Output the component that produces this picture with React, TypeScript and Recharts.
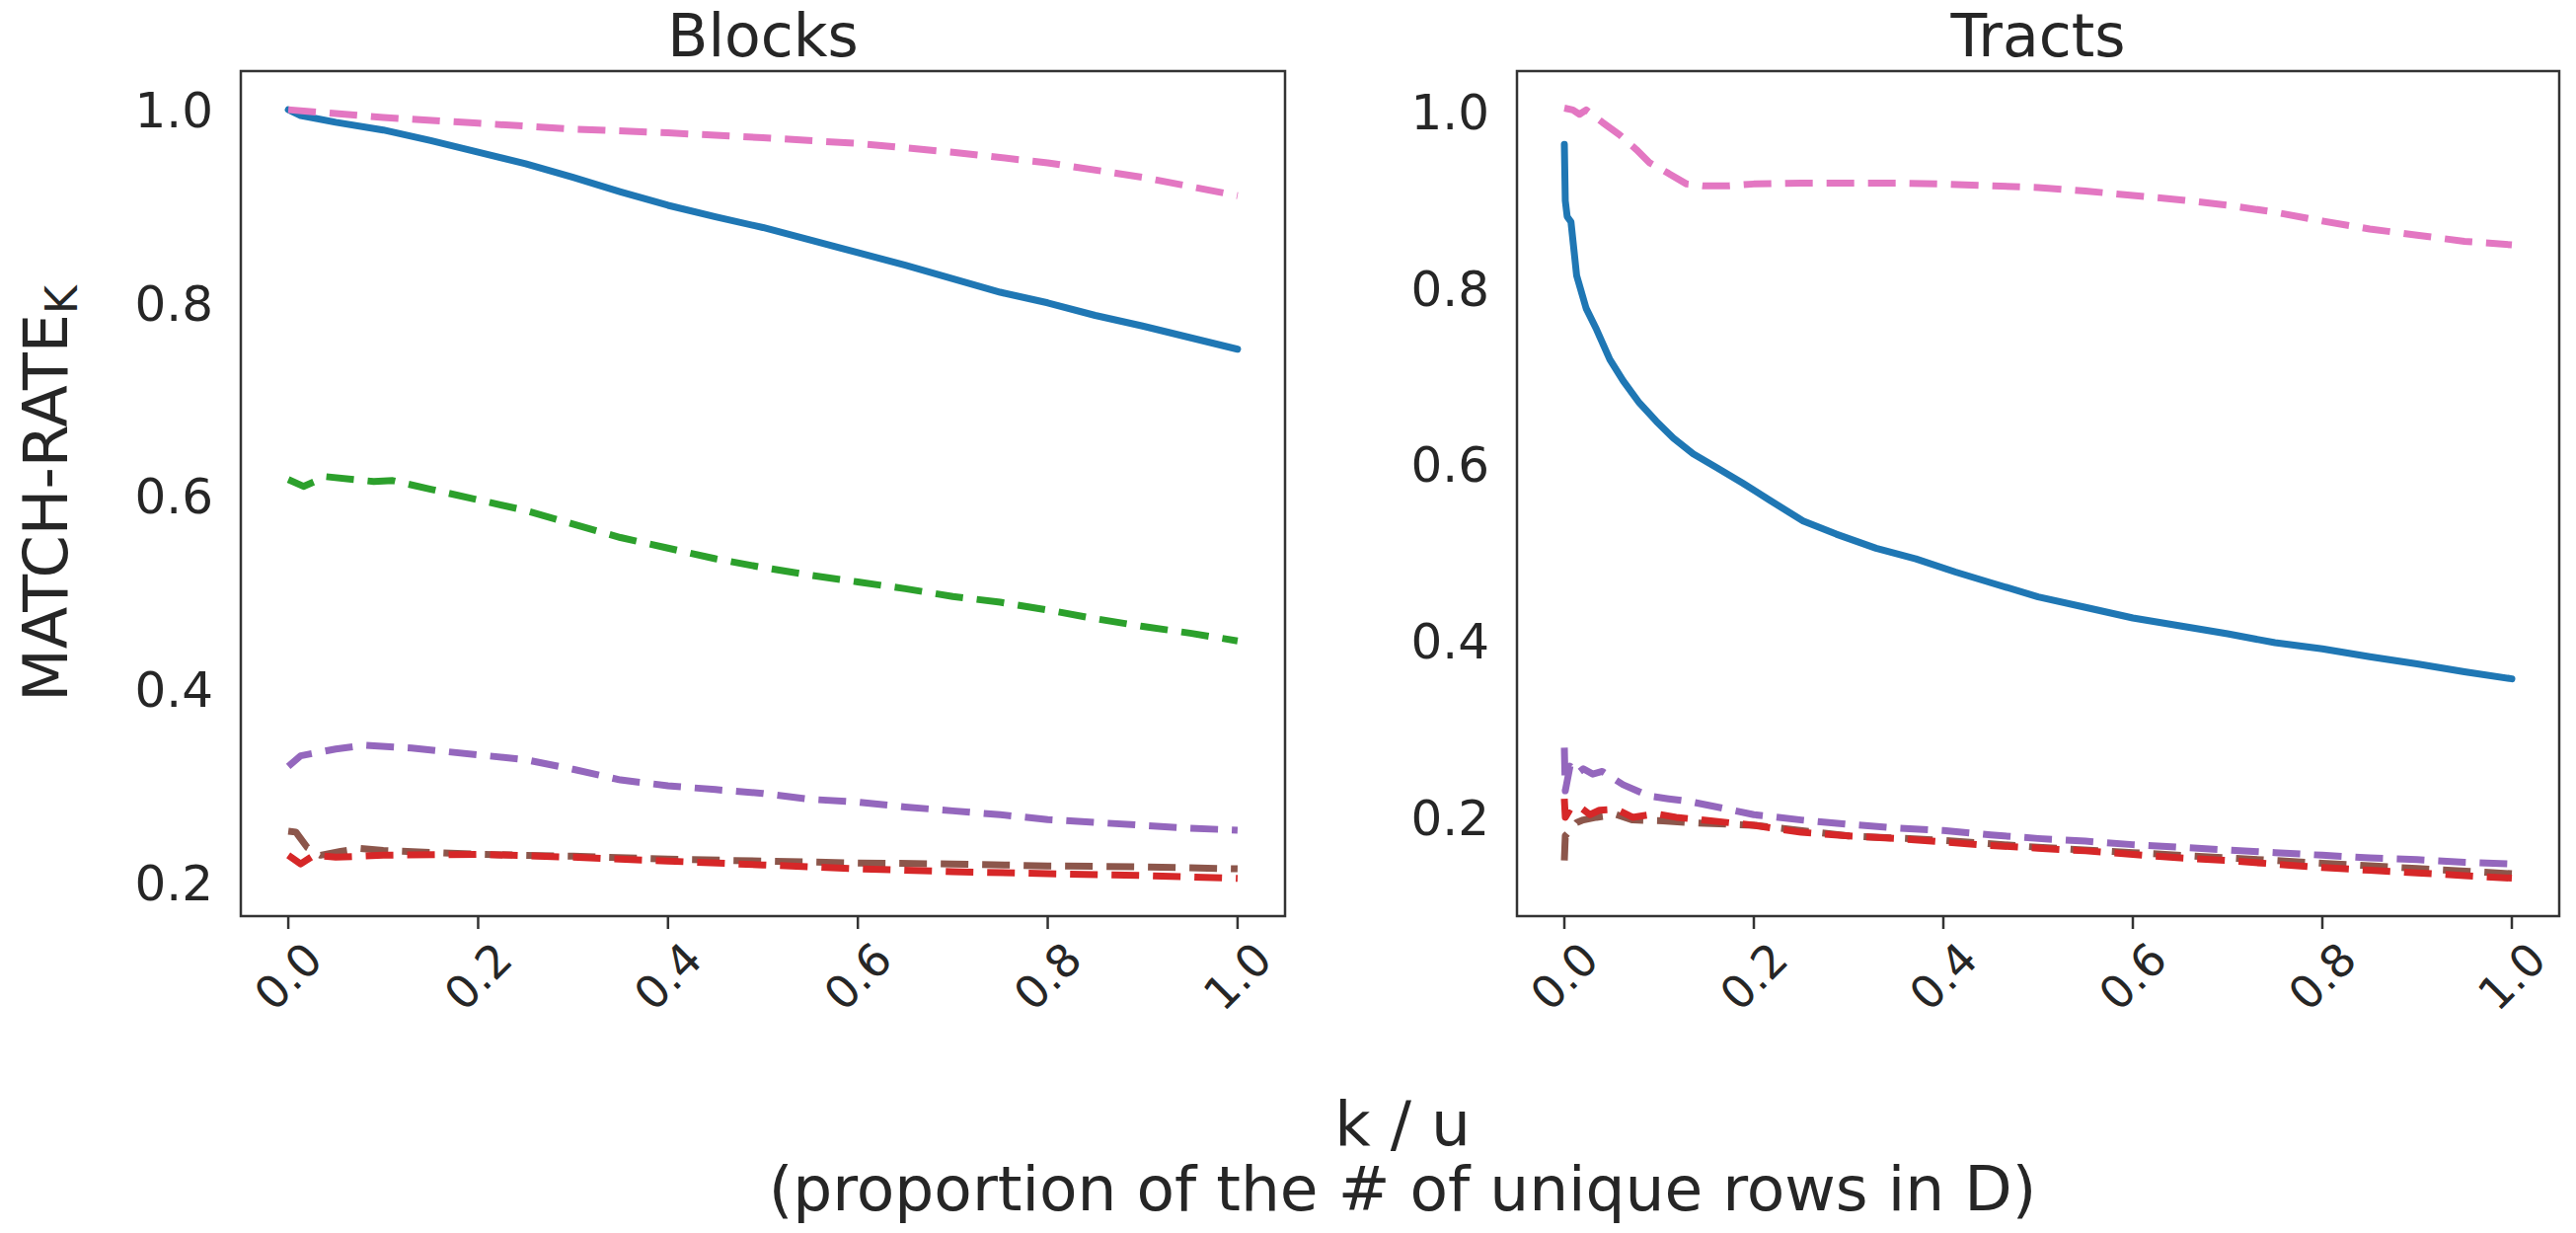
import React from "react";
import { LineChart, Line, XAxis, YAxis, ReferenceArea } from "recharts";

type Pt = [number, number];

// ---- shared axis values ----
const X_TICKS = [0, 0.2, 0.4, 0.6, 0.8, 1.0];
const Y_TICKS = [0.2, 0.4, 0.6, 0.8, 1.0];
const X_DOMAIN: [number, number] = [-0.05, 1.05];
const BLOCKS_Y_DOMAIN: [number, number] = [0.165, 1.04];
const TRACTS_Y_DOMAIN: [number, number] = [0.088, 1.046];

// ---- Blocks ----
const BLOCKS_BLUE: Pt[] = [
  [0, 1.0], [0.013, 0.994], [0.05, 0.987], [0.1, 0.979], [0.15, 0.968], [0.2, 0.956],
  [0.25, 0.944], [0.3, 0.93], [0.35, 0.915], [0.4, 0.901], [0.45, 0.889], [0.5, 0.878],
  [0.55, 0.865], [0.6, 0.852], [0.65, 0.839], [0.7, 0.825], [0.75, 0.811], [0.8, 0.8],
  [0.85, 0.787], [0.9, 0.776], [0.95, 0.764], [1.0, 0.752],
];
const BLOCKS_PINK: Pt[] = [
  [0, 1.0], [0.1, 0.992], [0.2, 0.986], [0.3, 0.98], [0.4, 0.976], [0.5, 0.971],
  [0.6, 0.965], [0.7, 0.956], [0.8, 0.945], [0.9, 0.93], [1.0, 0.911],
];
const BLOCKS_GREEN: Pt[] = [
  [0, 0.617], [0.016, 0.61], [0.04, 0.62], [0.09, 0.615], [0.11, 0.616], [0.15, 0.607],
  [0.2, 0.596], [0.25, 0.585], [0.3, 0.571], [0.35, 0.557], [0.4, 0.546], [0.45, 0.535],
  [0.5, 0.526], [0.55, 0.518], [0.6, 0.511], [0.65, 0.504], [0.7, 0.496], [0.75, 0.49],
  [0.8, 0.482], [0.85, 0.473], [0.9, 0.465], [0.95, 0.458], [1.0, 0.45],
];
const BLOCKS_PURPLE: Pt[] = [
  [0, 0.32], [0.013, 0.331], [0.05, 0.338], [0.08, 0.342], [0.13, 0.339], [0.2, 0.332],
  [0.25, 0.327], [0.3, 0.317], [0.35, 0.306], [0.4, 0.3], [0.45, 0.296], [0.5, 0.292],
  [0.55, 0.286], [0.6, 0.283], [0.65, 0.278], [0.7, 0.274], [0.75, 0.27], [0.8, 0.265],
  [0.85, 0.262], [0.9, 0.259], [0.95, 0.256], [1.0, 0.254],
];
const BLOCKS_BROWN: Pt[] = [
  [0, 0.253], [0.008, 0.252], [0.02, 0.236], [0.034, 0.228], [0.055, 0.232], [0.076, 0.235],
  [0.1, 0.233], [0.15, 0.231], [0.2, 0.229], [0.3, 0.227], [0.4, 0.224], [0.5, 0.222],
  [0.6, 0.22], [0.7, 0.219], [0.8, 0.217], [0.9, 0.216], [1.0, 0.214],
];
const BLOCKS_RED: Pt[] = [
  [0, 0.228], [0.013, 0.219], [0.027, 0.228], [0.05, 0.226], [0.1, 0.228], [0.2, 0.229],
  [0.3, 0.226], [0.4, 0.222], [0.5, 0.218], [0.6, 0.214], [0.7, 0.211], [0.8, 0.209],
  [0.9, 0.207], [1.0, 0.204],
];

// ---- Tracts ----
const TRACTS_BLUE: Pt[] = [
  [0, 0.963], [0.001, 0.899], [0.003, 0.881], [0.007, 0.875], [0.013, 0.814], [0.023, 0.777],
  [0.034, 0.753], [0.048, 0.719], [0.062, 0.695], [0.079, 0.67], [0.097, 0.649], [0.115, 0.63],
  [0.136, 0.612], [0.16, 0.597], [0.188, 0.579], [0.216, 0.56], [0.252, 0.536], [0.287, 0.521],
  [0.329, 0.505], [0.371, 0.493], [0.413, 0.478], [0.45, 0.466], [0.5, 0.45], [0.55, 0.438],
  [0.6, 0.426], [0.65, 0.417], [0.7, 0.408], [0.75, 0.398], [0.8, 0.391], [0.85, 0.382],
  [0.9, 0.374], [0.95, 0.365], [1.0, 0.357],
];
const TRACTS_PINK: Pt[] = [
  [0, 1.004], [0.009, 1.002], [0.016, 0.997], [0.023, 1.002], [0.04, 0.988], [0.058, 0.974],
  [0.076, 0.957], [0.09, 0.942], [0.11, 0.93], [0.129, 0.918], [0.146, 0.916], [0.174, 0.916],
  [0.2, 0.918], [0.25, 0.919], [0.3, 0.919], [0.35, 0.919], [0.4, 0.918], [0.45, 0.916],
  [0.5, 0.914], [0.55, 0.91], [0.6, 0.905], [0.65, 0.9], [0.7, 0.894], [0.75, 0.886],
  [0.8, 0.876], [0.85, 0.867], [0.9, 0.86], [0.95, 0.853], [1.0, 0.849],
];
const TRACTS_PURPLE: Pt[] = [
  [0, 0.279], [0.001, 0.23], [0.006, 0.258], [0.013, 0.249], [0.02, 0.255], [0.03, 0.249],
  [0.04, 0.252], [0.062, 0.237], [0.09, 0.224], [0.11, 0.221], [0.132, 0.218], [0.16, 0.212],
  [0.2, 0.203], [0.25, 0.197], [0.3, 0.192], [0.35, 0.188], [0.4, 0.185], [0.45, 0.18],
  [0.5, 0.176], [0.55, 0.173], [0.6, 0.169], [0.65, 0.166], [0.7, 0.163], [0.75, 0.16],
  [0.8, 0.157], [0.85, 0.154], [0.9, 0.152], [0.95, 0.149], [1.0, 0.147],
];
const TRACTS_RED: Pt[] = [
  [0, 0.221], [0.001, 0.2], [0.006, 0.209], [0.016, 0.212], [0.027, 0.203], [0.037, 0.208],
  [0.055, 0.209], [0.072, 0.2], [0.097, 0.204], [0.118, 0.2], [0.2, 0.191], [0.25, 0.183],
  [0.3, 0.179], [0.35, 0.176], [0.4, 0.172], [0.45, 0.168], [0.5, 0.165], [0.55, 0.162],
  [0.6, 0.158], [0.65, 0.154], [0.7, 0.151], [0.75, 0.147], [0.8, 0.143], [0.85, 0.14],
  [0.9, 0.137], [0.95, 0.134], [1.0, 0.131],
];
const TRACTS_BROWN: Pt[] = [
  [0, 0.151], [0.001, 0.179], [0.006, 0.185], [0.013, 0.194], [0.02, 0.197], [0.034, 0.2],
  [0.055, 0.203], [0.072, 0.197], [0.104, 0.196], [0.132, 0.194], [0.2, 0.191], [0.3, 0.179],
  [0.4, 0.174], [0.5, 0.166], [0.6, 0.16], [0.7, 0.154], [0.8, 0.148], [0.9, 0.142], [1.0, 0.136],
];

const FONT = "'DejaVu Sans', sans-serif";
const INK = "#262626";
const DASH = "28 14";

interface Serie {
  id: string;
  pts: Pt[];
  cor: string;
  dashed: boolean;
}

const toData = (pts: Pt[]) => pts.map(([x, y]) => ({ x, y }));

function XTick(props: any) {
  const { x, y, payload } = props;
  return (
    <g transform={`translate(${x},${y + 48})`}>
      <text
        transform="rotate(-45)"
        textAnchor="middle"
        dominantBaseline="central"
        fontFamily={FONT}
        fontSize={46}
        fill={INK}
      >
        {payload.value.toFixed(1)}
      </text>
    </g>
  );
}

function Painel({
  series, yDomain, width, yAxisWidth, marginRight,
}: {
  series: Serie[];
  yDomain: [number, number];
  width: number;
  yAxisWidth: number;
  marginRight: number;
}) {
  return (
    <LineChart
      width={width}
      height={1249}
      margin={{ top: 72, right: marginRight, bottom: 201, left: 0 }}
    >
      <XAxis
        type="number"
        dataKey="x"
        domain={X_DOMAIN}
        ticks={X_TICKS}
        allowDataOverflow
        height={120}
        axisLine={false}
        tickSize={13}
        tickMargin={0}
        tickLine={{ stroke: "#333", strokeWidth: 2.5 }}
        tick={<XTick />}
      />
      <YAxis
        type="number"
        dataKey="y"
        domain={yDomain}
        ticks={Y_TICKS}
        allowDataOverflow
        width={yAxisWidth}
        axisLine={false}
        tickLine={false}
        tickSize={0}
        tickMargin={28}
        tickFormatter={(v: number) => v.toFixed(1)}
        tick={{ fontFamily: FONT, fontSize: 50, fill: INK }}
      />
      {series.map((s) => (
        <Line
          key={s.id}
          data={toData(s.pts)}
          dataKey="y"
          type="linear"
          stroke={s.cor}
          strokeWidth={7}
          strokeDasharray={s.dashed ? DASH : undefined}
          strokeLinecap={s.dashed ? "butt" : "round"}
          strokeLinejoin="round"
          dot={false}
          activeDot={false}
          isAnimationActive={false}
        />
      ))}
      <ReferenceArea
        x1={X_DOMAIN[0]}
        x2={X_DOMAIN[1]}
        y1={yDomain[0]}
        y2={yDomain[1]}
        fill="none"
        stroke="#333"
        strokeWidth={2.5}
        ifOverflow="visible"
      />
    </LineChart>
  );
}

const BLOCKS_SERIES: Serie[] = [
  { id: "blue", pts: BLOCKS_BLUE, cor: "#1f77b4", dashed: false },
  { id: "pink", pts: BLOCKS_PINK, cor: "#e377c2", dashed: true },
  { id: "green", pts: BLOCKS_GREEN, cor: "#2ca02c", dashed: true },
  { id: "purple", pts: BLOCKS_PURPLE, cor: "#9467bd", dashed: true },
  { id: "brown", pts: BLOCKS_BROWN, cor: "#8c564b", dashed: true },
  { id: "red", pts: BLOCKS_RED, cor: "#d62728", dashed: true },
];

const TRACTS_SERIES: Serie[] = [
  { id: "blue", pts: TRACTS_BLUE, cor: "#1f77b4", dashed: false },
  { id: "pink", pts: TRACTS_PINK, cor: "#e377c2", dashed: true },
  { id: "purple", pts: TRACTS_PURPLE, cor: "#9467bd", dashed: true },
  { id: "brown", pts: TRACTS_BROWN, cor: "#8c564b", dashed: true },
  { id: "red", pts: TRACTS_RED, cor: "#d62728", dashed: true },
];

export default function App() {
  return (
    <div style={{ position: "fixed", left: 0, top: 0, width: 2610, height: 1249, background: "#fff" }}>
      <div style={{ position: "absolute", left: 0, top: 0 }}>
        <Painel series={BLOCKS_SERIES} yDomain={BLOCKS_Y_DOMAIN} width={1400} yAxisWidth={244} marginRight={98} />
      </div>
      <div style={{ position: "absolute", left: 1300, top: 0 }}>
        <Painel series={TRACTS_SERIES} yDomain={TRACTS_Y_DOMAIN} width={1310} yAxisWidth={237} marginRight={17} />
      </div>

      {/* textos */}
      <svg
        width={2610}
        height={1249}
        style={{ position: "absolute", left: 0, top: 0, pointerEvents: "none" }}
        fontFamily={FONT}
        fill={INK}
      >
        <text x={773} y={57} textAnchor="middle" fontSize={60}>Blocks</text>
        <text x={2065} y={57} textAnchor="middle" fontSize={60}>Tracts</text>
        <text x={68} y={500} textAnchor="middle" fontSize={62} transform="rotate(-90, 68, 500)">
          MATCH-RATE<tspan fontSize={44} dy={10}>K</tspan>
        </text>
        <text x={1421} y={1160} textAnchor="middle" fontSize={63}>k / u</text>
        <text x={1421} y={1226} textAnchor="middle" fontSize={63}>(proportion of the # of unique rows in D)</text>
      </svg>
    </div>
  );
}
